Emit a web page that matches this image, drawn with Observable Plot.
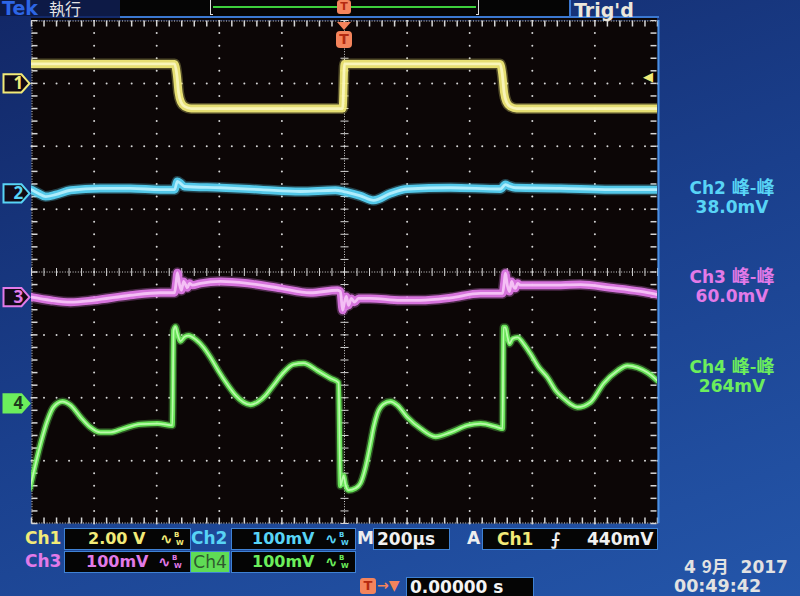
<!DOCTYPE html>
<html><head><meta charset="utf-8">
<script src="https://cdn.jsdelivr.net/npm/d3@7"></script>
<script src="https://cdn.jsdelivr.net/npm/@observablehq/plot@0.6"></script>
<style>
body{margin:0;width:800px;height:596px;overflow:hidden;background:linear-gradient(160deg,#122766 0%,#1a3f8c 50%,#2456aa 100%);font-family:"DejaVu Sans",sans-serif;}
#wrap{position:relative;width:800px;height:596px;overflow:hidden;}
.d{position:absolute;box-sizing:border-box;}
.box{position:absolute;background:#050505;border:1px solid #3f82d4;box-sizing:border-box;}
.t{position:absolute;font-weight:bold;font-size:17px;line-height:20px;white-space:nowrap;}
.v{font-size:16px;}
.bw{position:absolute;font-weight:bold;font-size:7px;line-height:8px;white-space:nowrap;}
.cjk{font-family:"Noto Sans CJK SC",sans-serif;}
</style></head><body><div id="wrap"></div><script>
// ---- data (time in µs, 200 µs/div; vertical in screen divisions) ----
const timeDomain = [-1000, 1000];
const divDomain = [-4, 4];

const ch1T = [-1000,-543,-536,-530,-522,-510,-490,-6,0,497,504,510,518,530,550,1000];
const ch1V = [3.31,3.31,3.15,2.85,2.70,2.63,2.60,2.60,3.31,3.31,3.15,2.85,2.70,2.63,2.60,2.60];

const ch2T = [-1000,-978,-955,-923,-875,-780,-684,-588,-543,-534,-524,-511,-396,-268,-141,-29,-3,6,51,93,147,201,339,498,514,524,546,690,850,1000];
const ch2V = [1.31,1.25,1.20,1.23,1.30,1.33,1.33,1.31,1.31,1.44,1.41,1.36,1.34,1.31,1.28,1.30,1.28,1.27,1.21,1.14,1.25,1.32,1.34,1.32,1.39,1.37,1.34,1.33,1.31,1.31];

const ch3T = [-1000,-939,-875,-802,-684,-588,-543,-538,-534,-527,-521,-514,-508,-502,-495,-486,-460,-396,-310,-204,-109,-22,-13,-6,0,6,13,22,32,45,83,179,243,339,434,505,510,514,521,527,534,540,546,553,562,658,754,850,946,1000];
const ch3V = [-0.40,-0.45,-0.48,-0.45,-0.37,-0.33,-0.33,-0.17,-0.01,-0.20,-0.29,-0.15,-0.20,-0.25,-0.18,-0.21,-0.18,-0.15,-0.18,-0.26,-0.33,-0.29,-0.31,-0.61,-0.48,-0.39,-0.53,-0.42,-0.48,-0.42,-0.42,-0.45,-0.45,-0.41,-0.34,-0.34,-0.18,-0.02,-0.23,-0.31,-0.15,-0.23,-0.26,-0.18,-0.21,-0.21,-0.20,-0.25,-0.31,-0.36];

const ch4T = [-1005,-994,-971,-949,-930,-901,-875,-843,-812,-780,-748,-706,-652,-597,-550,
  -546,-540,-534,-524,-511,-498,-476,-450,-428,-403,-374,-348,-323,-300,-278,-252,-227,-195,-163,-131,-86,-45,-19,
  -13,-3,3,13,35,51,67,83,93,105,125,147,169,201,243,291,339,393,435,489,505,
  508,514,521,527,537,553,572,594,620,649,674,700,722,744,786,828,872,904,936,968,1000];
const ch4V = [-3.44,-3.20,-2.73,-2.36,-2.15,-2.06,-2.12,-2.31,-2.47,-2.55,-2.55,-2.49,-2.42,-2.41,-2.44,
  -0.93,-0.87,-0.98,-1.10,-1.03,-1.01,-1.07,-1.20,-1.36,-1.57,-1.79,-1.96,-2.07,-2.11,-2.07,-1.96,-1.80,-1.60,-1.47,-1.45,-1.57,-1.69,-1.76,
  -3.40,-3.24,-3.38,-3.47,-3.44,-3.36,-3.11,-2.73,-2.47,-2.25,-2.10,-2.06,-2.12,-2.31,-2.49,-2.62,-2.55,-2.44,-2.41,-2.47,-2.49,
  -0.88,-0.88,-1.04,-1.14,-1.06,-1.04,-1.14,-1.30,-1.51,-1.68,-1.88,-2.01,-2.10,-2.15,-2.07,-1.77,-1.57,-1.49,-1.52,-1.60,-1.73];

const chLabels = ["1","2","3","4"];
const chOffsets = [3.0, 1.25, -0.40, -2.09];
const chColors = ["#f2ea78","#58d4f6","#e27ae8","#6cee5c"];
const chCores = ["#fcf8c4","#bff3ff","#f9cdf9","#c8ffb8"];
const trigArrowDiv = 3.1;

const measNames = ["Ch2","Ch3","Ch4"];
const measKind = "峰-峰";
const measValues = ["38.0mV","60.0mV","264mV"];
const scaleTexts = ["2.00 V","100mV","100mV","100mV"];
const timebase = "200µs";
const trigLevelText = "440mV";
const trigPosText = "0.00000 s";
const dateDay = "4", dateMonth = "9月", dateYear = "2017";
const timeText = "00:49:42";

// ---- helpers ----
const mk = (T, V) => T.map((t, i) => ({t, v: V[i]}));
const traces = [mk(ch1T, ch1V), mk(ch2T, ch2V), mk(ch3T, ch3V), mk(ch4T, ch4V)];
const hTick = {draw(c, s){const r=Math.sqrt(s/Math.PI); c.moveTo(-r,0); c.lineTo(r,0);}};
const vTick = {draw(c, s){const r=Math.sqrt(s/Math.PI); c.moveTo(0,-r); c.lineTo(0,r);}};
const pent = {draw(c, s){const r=Math.sqrt(s/Math.PI); c.moveTo(-r,-0.7*r); c.lineTo(0.38*r,-0.7*r); c.lineTo(r,0); c.lineTo(0.38*r,0.7*r); c.lineTo(-r,0.7*r); c.closePath();}};

const majorX = d3.range(-1000, 1001, 200);
const majorY = d3.range(-4, 5, 1);
const minorX = d3.range(-1000, 1000.1, 40);
const minorY = d3.range(-4, 4.001, 0.2).map(v => Math.round(v*100)/100);
const innerX = majorX.filter(x => x !== 0 && Math.abs(x) !== 1000);
const innerY = majorY.filter(y => y !== 0 && Math.abs(y) !== 4);
const vDots = innerX.flatMap(x => minorY.map(y => ({x, y})));
const hDots = innerY.flatMap(y => minorX.map(x => ({x, y})));
const chans = chLabels.map((c, i) => ({c, off: chOffsets[i], col: chColors[i], sel: c === "4"}));

const gc = "#d6d6d6";
const marks = [
  Plot.frame({fill: "#0c0606", stroke: null}),
  Plot.dot(vDots, {x: "x", y: "y", r: 1, fill: gc, stroke: null}),
  Plot.dot(hDots, {x: "x", y: "y", r: 1, fill: gc, stroke: null}),
  Plot.ruleX([0], {stroke: gc, strokeDasharray: "1,1.6", strokeWidth: 1}),
  Plot.ruleY([0], {stroke: gc, strokeDasharray: "1,1.6", strokeWidth: 1}),
  Plot.dot(minorY, {x: 0, y: d => d, symbol: hTick, r: 4, stroke: gc, strokeWidth: 1}),
  Plot.dot(minorX, {x: d => d, y: 0, symbol: vTick, r: 4, stroke: gc, strokeWidth: 1}),
  Plot.ruleX([-1000], {stroke: gc, strokeDasharray: "1,1.6", dx: 0.5}),
  Plot.ruleY([4], {stroke: gc, strokeDasharray: "1,1.6", dy: 0.5}),
  Plot.ruleY([-4], {stroke: gc, strokeDasharray: "1,1.6", dy: -0.5}),
  Plot.dot(minorY, {x: -1000, y: d => d, symbol: hTick, r: 3, dx: 3, stroke: gc}),
  Plot.dot(minorY, {x: 1000, y: d => d, symbol: hTick, r: 3, dx: -4, stroke: gc}),
  Plot.dot(minorX, {x: d => d, y: 4, symbol: vTick, r: 3, dy: 3, stroke: gc}),
  Plot.dot(minorX, {x: d => d, y: -4, symbol: vTick, r: 3, dy: -3, stroke: gc}),
  Plot.ruleX([1000], {stroke: "#4a8ee0", strokeWidth: 2, dx: 1}),
];
traces.forEach((d, i) => {
  const w = i === 3 ? 5 : 8;
  marks.push(Plot.line(d, {x: "t", y: "v", stroke: chColors[i], strokeWidth: w + 3, strokeOpacity: 0.3, curve: "monotone-x", clip: true}));
  marks.push(Plot.line(d, {x: "t", y: "v", stroke: chColors[i], strokeWidth: w, strokeOpacity: 0.92, curve: "monotone-x", clip: true}));
  marks.push(Plot.line(d, {x: "t", y: "v", stroke: chCores[i], strokeWidth: w * 0.35, strokeOpacity: 0.85, curve: "monotone-x", clip: true}));
});
marks.push(
  Plot.dot(chans, {y: "off", frameAnchor: "left", dx: -15, symbol: pent, r: 13,
    fill: d => d.sel ? d.col : "#120a14", stroke: d => d.col, strokeWidth: 2}),
  Plot.text(chans, {y: "off", frameAnchor: "left", dx: -18, text: "c", fontSize: 17, fontWeight: "bold",
    fill: d => d.sel ? "#1d3a1d" : d.col}),
  Plot.text([trigArrowDiv], {x: 1000, y: d => d, text: () => "◀", dx: -10, fill: chColors[0], fontSize: 13})
);

const plot = Plot.plot({
  width: 800, height: 596,
  marginLeft: 31, marginRight: 143, marginTop: 20, marginBottom: 73,
  x: {domain: timeDomain, axis: null},
  y: {domain: divDomain, axis: null},
  color: {type: "identity"},
  style: {background: "transparent", overflow: "visible"},
  marks
});
const wrap = document.getElementById("wrap");
plot.style.position = "absolute"; plot.style.left = "0px"; plot.style.top = "0px";
wrap.appendChild(plot);

const X0 = plot.scale("x").apply(0);
const xL = plot.scale("x").apply(timeDomain[0]);
const xR = plot.scale("x").apply(timeDomain[1]);
const yTop = plot.scale("y").apply(divDomain[1]);

function el(cls, css, html){ const e = document.createElement("div"); e.className = cls; e.style.cssText = css; if (html != null) e.innerHTML = html; wrap.appendChild(e); return e; }
function bw(x, y, c){
  el("t", `left:${x}px;top:${y}px;color:${c};font-size:15px`, "∿");
  el("bw", `left:${x + 14}px;top:${y + 2}px;color:${c}`, "B");
  el("bw", `left:${x + 16}px;top:${y + 10}px;color:${c}`, "W");
}

// top bar
el("d", `left:0;top:0;width:120px;height:16px;background:#0d1a46`);
el("t", `left:2px;top:0px;font-size:19px;line-height:17px;color:#2d66e6`, "Tek");
el("d", `left:49px;top:0px;font-size:16px;line-height:17px;color:#e4e4e4;font-family:'Noto Sans CJK SC',sans-serif;white-space:nowrap`, "執行");
el("d", `left:120px;top:0;width:449px;height:16px;background:#050505`);
el("d", `left:120px;top:16px;width:${xR - 120 + 2}px;height:2px;background:#3b78d0`);
el("d", `left:${xL}px;top:18px;width:${xR - xL}px;height:${yTop - 18}px;background:#0c0606`);
el("d", `left:210px;top:0;width:3px;height:15px;border-left:1px solid #ddd;border-bottom:1px solid #ddd`);
el("d", `left:476px;top:0;width:3px;height:15px;border-right:1px solid #ddd;border-bottom:1px solid #ddd`);
el("d", `left:213px;top:6px;width:263px;height:2px;background:#3ccf3c`);
el("d", `left:569px;top:0;width:2px;height:18px;background:#3b78d0`);
el("t", `left:574px;top:0px;font-size:19px;line-height:20px;color:#ece8dc`, "Trig'd");
// trigger position markers
el("d", `left:${X0 - 7}px;top:0px;width:14px;height:14px;background:#f4845c;border-radius:3px;color:#b42a10;font:bold 11px 'DejaVu Sans';text-align:center;line-height:14px`, "T");
el("d", `left:${X0 - 7}px;top:22px;width:0;height:0;border-left:7px solid transparent;border-right:7px solid transparent;border-top:8px solid #f4845c`);
el("d", `left:${X0 - 8}px;top:31px;width:16px;height:17px;background:#f4845c;border-radius:4px;color:#b42a10;font:bold 14px 'DejaVu Sans';text-align:center;line-height:17px`, "T");

// right measurements
const measTops = [177, 266, 356];
measNames.forEach((n, i) => {
  el("t", `left:662px;top:${measTops[i]}px;width:140px;text-align:center;line-height:19px;font-size:17px;color:${chColors[i+1]}`,
    `<span>${n}&nbsp;</span><span class="cjk" style="font-weight:bold;font-size:18px">${measKind}</span><br>${measValues[i]}`);
});

// bottom rows
const r1 = 528, r2 = 551;
el("t", `left:25px;top:${r1}px;color:${chColors[0]}`, "Ch1");
el("box", `left:64px;top:${r1}px;width:127px;height:22px`);
el("t v", `left:88px;top:${r1+1}px;color:${chColors[0]}`, scaleTexts[0]);
bw(160, r1 + 1, chColors[0]);
el("t", `left:191px;top:${r1}px;color:${chColors[1]}`, "Ch2");
el("box", `left:231px;top:${r1}px;width:125px;height:22px`);
el("t v", `left:252px;top:${r1+1}px;color:${chColors[1]}`, scaleTexts[1]);
bw(325, r1 + 1, chColors[1]);
el("t", `left:357px;top:${r1}px;color:#eeeeee`, "M");
el("box", `left:373px;top:${r1}px;width:77px;height:22px`);
el("t", `left:377px;top:${r1+1}px;color:#f0f0f0`, timebase);
el("t", `left:467px;top:${r1}px;color:#eeeeee`, "A");
el("box", `left:482px;top:${r1}px;width:176px;height:22px`);
el("t", `left:497px;top:${r1+1}px;color:${chColors[0]}`, "Ch1");
el("t", `left:551px;top:${r1+1}px;color:#f0f0f0`, "⨍");
el("t", `left:587px;top:${r1+1}px;color:#f0f0f0`, trigLevelText);

el("t", `left:25px;top:${r2}px;color:${chColors[2]}`, "Ch3");
el("box", `left:64px;top:${r2}px;width:127px;height:22px`);
el("t v", `left:86px;top:${r2+1}px;color:${chColors[2]}`, scaleTexts[2]);
bw(158, r2 + 1, chColors[2]);
el("d", `left:190px;top:${r2}px;width:40px;height:22px;background:#5fdc55;border:1px solid #3f82d4;color:#2f5a2f;font:17px 'DejaVu Sans';line-height:20px;text-align:center`, "Ch4");
el("box", `left:231px;top:${r2}px;width:125px;height:22px`);
el("t v", `left:252px;top:${r2+1}px;color:${chColors[3]}`, scaleTexts[3]);
bw(325, r2 + 1, chColors[3]);

el("d", `left:360px;top:578px;width:16px;height:16px;background:#f4845c;border-radius:3px;color:#b42a10;font:bold 13px 'DejaVu Sans';text-align:center;line-height:16px`, "T");
el("t", `left:377px;top:575px;font-size:14px;color:#f4845c`, "→▼");
el("box", `left:406px;top:577px;width:128px;height:21px`);
el("t", `left:410px;top:577px;color:#f4f4f4`, trigPosText);
el("t", `left:684px;top:557px;line-height:18px;color:#e2e2e2;font-size:17px`, `${dateDay}&nbsp;<span class="cjk" style="font-weight:bold;font-size:17px">${dateMonth}</span>&nbsp;&nbsp;${dateYear}`);
el("t", `left:674px;top:577px;line-height:18px;color:#e2e2e2;font-size:17.5px`, timeText);
</script></body></html>
